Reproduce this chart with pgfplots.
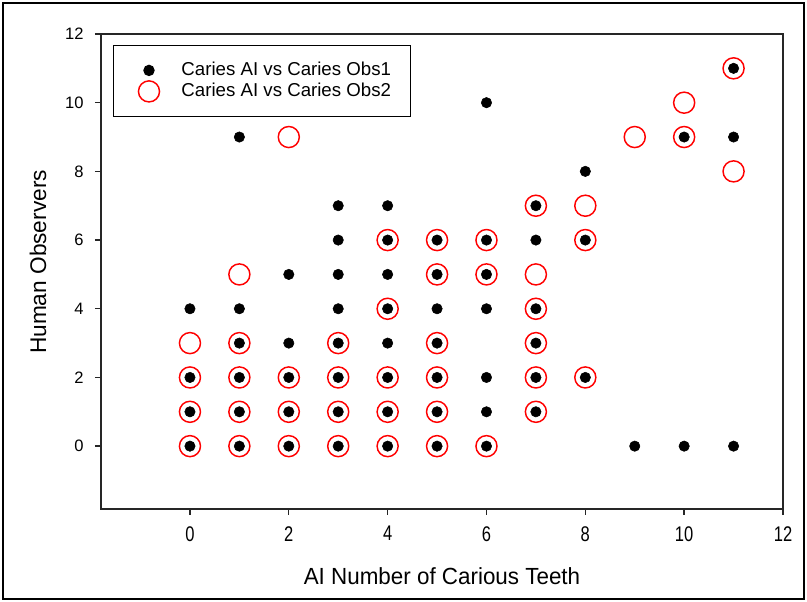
\documentclass[border=0pt]{standalone}
\usepackage{fontspec}
\setmainfont{Liberation Sans}
\newfontfamily\narrowfont[FakeStretch=0.78]{Liberation Sans}
\newfontfamily\labelfont[FakeStretch=0.96]{Liberation Sans}
\usepackage{pgfplots}
\pgfplotsset{compat=1.18}
\begin{document}
\begin{tikzpicture}
\useasboundingbox (-75.75pt,-69.75pt) rectangle (529.5pt,381.75pt);
\draw[line width=1.5pt] (-73.5pt,-67.5pt) rectangle (527.25pt,379.5pt);
\begin{axis}[
  at={(0pt,0pt)}, anchor=south west,
  scale only axis, width=511.5pt, height=356.25pt,
  xmin=-1.8, xmax=12, ymin=-1.83, ymax=12,
  xtick={0,2,...,12}, ytick={0,2,...,12},
  tick align=outside, xtick pos=left, ytick pos=left,
  major tick length=4.5pt,
  axis line style={line width=1pt, black!85},
  every tick/.style={black!85, line width=1pt},
  /pgf/number format/assume math mode=true,
  yticklabel style={font=\fontsize{12.4}{14}\selectfont, xshift=-5pt},
  xticklabel style={font=\narrowfont\fontsize{15.9}{18}\selectfont, yshift=-5pt},
  xlabel={AI Number of Carious Teeth},
  ylabel={Human Observers},
  xlabel style={font=\labelfont\fontsize{17.5}{20}\selectfont, at={(axis description cs:0.5,-0.141)}, anchor=center},
  ylabel style={font=\fontsize{17}{20}\selectfont, at={(axis description cs:-0.0924,0.52)}, anchor=center},
  legend style={at={(0.0176,0.977)}, anchor=north west, draw=black, line width=0.75pt,
    font=\fontsize{14}{16}\selectfont, inner xsep=14.25pt, inner ysep=12.25pt, row sep=2.75pt,
    nodes={inner sep=0pt, text height=10pt, text depth=3pt}},
  legend cell align=left,
  legend image code/.code={\draw[mark repeat=2,mark phase=2,#1,overlay] plot coordinates {(0pt,0pt)(12pt,0pt)(36pt,0pt)}; \path (0pt,-1pt) (36pt,1pt);},
]
\addplot[only marks, mark=*, mark size=3.9pt, black] coordinates {
(0,0)(0,1)(0,2)(0,4)
(1,0)(1,1)(1,2)(1,3)(1,4)(1,9)
(2,0)(2,1)(2,2)(2,3)(2,5)
(3,0)(3,1)(3,2)(3,3)(3,4)(3,5)(3,6)(3,7)
(4,0)(4,1)(4,2)(4,3)(4,4)(4,5)(4,6)(4,7)
(5,0)(5,1)(5,2)(5,3)(5,4)(5,5)(5,6)
(6,0)(6,1)(6,2)(6,4)(6,5)(6,6)(6,10)
(7,1)(7,2)(7,3)(7,4)(7,6)(7,7)
(8,2)(8,6)(8,8)
(9,0)(10,0)(10,9)(11,0)(11,9)(11,11)
};
\addlegendentry{Caries AI vs Caries Obs1}
\addplot[only marks, mark=o, mark size=7.9pt, red, mark options={line width=1.1pt}] coordinates {
(0,0)(0,1)(0,2)(0,3)
(1,0)(1,1)(1,2)(1,3)(1,5)
(2,0)(2,1)(2,2)(2,9)
(3,0)(3,1)(3,2)(3,3)
(4,0)(4,1)(4,2)(4,4)(4,6)
(5,0)(5,1)(5,2)(5,3)(5,5)(5,6)
(6,0)(6,5)(6,6)
(7,1)(7,2)(7,3)(7,4)(7,5)(7,7)
(8,2)(8,6)(8,7)
(9,9)(10,9)(10,10)(11,8)(11,11)
};
\addlegendentry{Caries AI vs Caries Obs2}
\end{axis}
\end{tikzpicture}
\end{document}
